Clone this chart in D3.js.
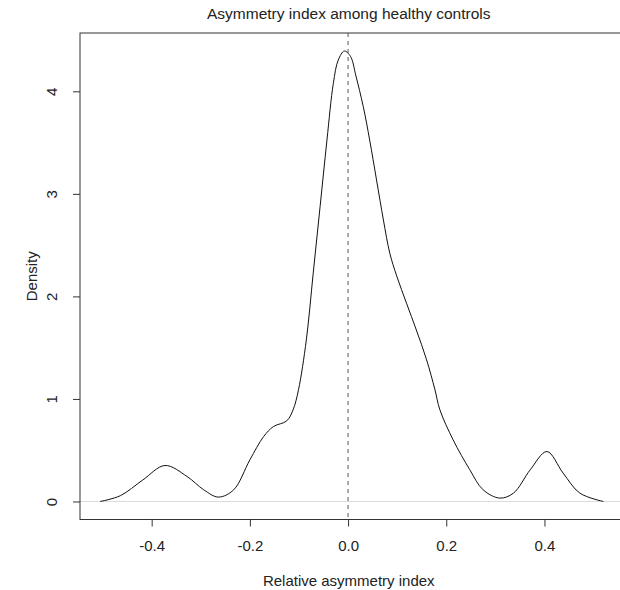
<!DOCTYPE html>
<html>
<head>
<meta charset="utf-8">
<script src="https://cdn.jsdelivr.net/npm/d3@7"></script>
<style>
  body { margin: 0; background: #fff; }
  text { font-family: "Liberation Sans", Arial, sans-serif; fill: #222; }
</style>
</head>
<body>
<div id="chart"></div>
<script>

// density estimate
var densX = [-0.505, -0.464, -0.418, -0.373, -0.328, -0.294, -0.264, -0.233, -0.200, -0.172,
             -0.152, -0.125, -0.112, -0.101, -0.085, -0.071, -0.057, -0.043, -0.030, -0.020,
             -0.0075, 0.005, 0.016, 0.031, 0.044, 0.058, 0.072, 0.085, 0.099, 0.119,
             0.139, 0.160, 0.177, 0.187, 0.214, 0.248, 0.275, 0.309, 0.337, 0.371,
             0.405, 0.438, 0.472, 0.520];
var densY = [0.000, 0.056, 0.210, 0.351, 0.244, 0.114, 0.043, 0.114, 0.406, 0.633,
             0.731, 0.786, 0.894, 1.089, 1.576, 2.226, 2.875, 3.525, 4.078, 4.305,
             4.393, 4.340, 4.150, 3.850, 3.525, 3.135, 2.745, 2.421, 2.200, 1.934,
             1.673, 1.381, 1.089, 0.894, 0.601, 0.309, 0.114, 0.033, 0.082, 0.309,
             0.487, 0.277, 0.082, 0.000];

var xTicks = [-0.4, -0.2, 0.0, 0.2, 0.4];
var yTicks = [0, 1, 2, 3, 4];

var title = "Asymmetry index among healthy controls";
var xLabel = "Relative asymmetry index";
var yLabel = "Density";

var width = 620;
var height = 590;

var plot = { left: 80, right: 623.5, top: 33, bottom: 519.5 };

// R style 4% axis extension
var xr = d3.extent(densX);
var xpad = (xr[1] - xr[0]) * 0.04;
var yr = [0, d3.max(densY)];
var ypad = (yr[1] - yr[0]) * 0.04;

var x_scale = d3.scaleLinear()
    .domain([xr[0] - xpad, xr[1] + xpad])
    .range([plot.left, plot.right]);
var y_scale = d3.scaleLinear()
    .domain([yr[0] - ypad, yr[1] + ypad])
    .range([plot.bottom, plot.top]);

var data = densX.map(function(d, i) {
    return { x: d, y: densY[i] };
});

var svg = d3.select("#chart")
    .append("svg")
    .attr("width", width)
    .attr("height", height);

// zero line
svg.append("line")
    .attr("x1", plot.left)
    .attr("x2", width)
    .attr("y1", y_scale(0))
    .attr("y2", y_scale(0))
    .attr("stroke", "#dcdcdc")
    .attr("stroke-width", 1);

// dashed line at 0
svg.append("line")
    .attr("x1", x_scale(0))
    .attr("x2", x_scale(0))
    .attr("y1", plot.top)
    .attr("y2", plot.bottom)
    .attr("stroke", "#555")
    .attr("stroke-width", 1)
    .attr("stroke-dasharray", "4,4");

var valueline = d3.line()
    .x(function(d) { return x_scale(d.x); })
    .y(function(d) { return y_scale(d.y); })
    .curve(d3.curveCatmullRom.alpha(0.5));

svg.append("path")
    .datum(data)
    .attr("fill", "none")
    .attr("stroke", "#111")
    .attr("stroke-width", 1)
    .attr("d", valueline);

// box
svg.append("rect")
    .attr("x", plot.left)
    .attr("y", plot.top)
    .attr("width", plot.right - plot.left)
    .attr("height", plot.bottom - plot.top)
    .attr("fill", "none")
    .attr("stroke", "#333")
    .attr("stroke-width", 1);

// x axis
var x_axis = d3.axisBottom(x_scale)
    .tickValues(xTicks)
    .tickFormat(function(d) { return d3.format(".1f")(d).replace("\u2212", "-"); })
    .tickSize(7)
    .tickPadding(14);

var gx = svg.append("g")
    .attr("class", "x axis")
    .attr("transform", "translate(0," + plot.bottom + ")")
    .call(x_axis);
gx.select(".domain").remove();
gx.selectAll("line").attr("stroke", "#333");
gx.selectAll("text")
    .style("font-size", "15px")
    .attr("fill", "#222");

// y axis
var y_axis = d3.axisLeft(y_scale)
    .tickValues(yTicks)
    .tickFormat(d3.format("d"))
    .tickSize(7)
    .tickPadding(0);

var gy = svg.append("g")
    .attr("class", "y axis")
    .attr("transform", "translate(" + plot.left + ",0)")
    .call(y_axis);
gy.select(".domain").remove();
gy.selectAll("line").attr("stroke", "#333");
gy.selectAll("text")
    .style("font-size", "15px")
    .attr("fill", "#222")
    .attr("x", null)
    .attr("text-anchor", "middle")
    .attr("transform", "translate(-28,0)rotate(-90)")
    .attr("dy", "0.35em");

// labels
svg.append("text")
    .attr("x", (plot.left + plot.right) / 2 - 3)
    .attr("y", 19)
    .attr("text-anchor", "middle")
    .style("font-size", "15.5px")
    .text(title);

svg.append("text")
    .attr("x", (plot.left + plot.right) / 2 - 3)
    .attr("y", 586)
    .attr("text-anchor", "middle")
    .style("font-size", "15px")
    .text(xLabel);

svg.append("text")
    .attr("transform", "translate(37," + ((plot.top + plot.bottom) / 2) + ")rotate(-90)")
    .attr("text-anchor", "middle")
    .style("font-size", "15px")
    .text(yLabel);

</script>
</body>
</html>
